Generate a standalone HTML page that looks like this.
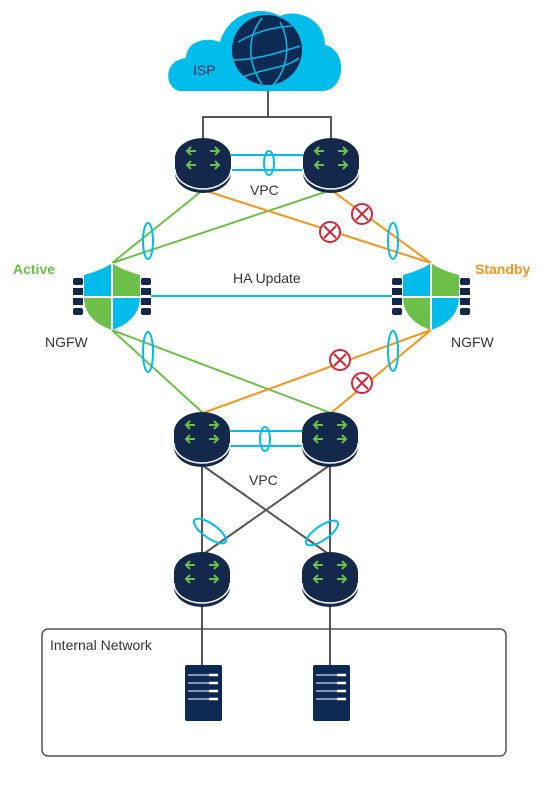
<!DOCTYPE html>
<html><head><meta charset="utf-8"><style>body{margin:0;background:#fff}svg{display:block}text{font-family:"Liberation Sans",sans-serif}</style></head><body>
<svg width="555" height="786" viewBox="0 0 555 786" xmlns="http://www.w3.org/2000/svg">
<defs>
<g id="rt">
<path d="M-28,0 L-28,15 A28,20 0 0 0 28,15 L28,0 Z" fill="#14284b"/>
<path d="M-28,11 A28,20 0 0 0 28,11" fill="none" stroke="#fff" stroke-width="1.5"/>
<ellipse cx="0" cy="0" rx="28" ry="20" fill="#14284b"/>
<g stroke="#6cc04a" stroke-width="2" fill="none">
<path d="M-16,-7 h9 M-12,-11 l-4,4 l4,4 M16,-7 h-9 M12,-11 l4,4 l-4,4 M-16,7 h9 M-12,3 l-4,4 l4,4 M16,7 h-9 M12,3 l4,4 l-4,4"/>
</g>
</g>
<g id="fw">
<g fill="#14284b">
<rect x="-39" y="-19" width="10" height="7" rx="2"/><rect x="-39" y="-9" width="10" height="7"/><rect x="-39" y="1" width="10" height="7"/><rect x="-39" y="11" width="10" height="7" rx="2"/>
<rect x="29" y="-19" width="10" height="7" rx="2"/><rect x="29" y="-9" width="10" height="7"/><rect x="29" y="1" width="10" height="7"/><rect x="29" y="11" width="10" height="7" rx="2"/>
</g>
<path d="M0,-34 C-8,-28 -18,-25 -28,-22 L-28,0 L0,0 Z" fill="#00bceb"/>
<path d="M0,-34 C8,-28 18,-25 28,-22 L28,0 L0,0 Z" fill="#6cc04a"/>
<path d="M-28,0 C-28,18 -15,28 0,33 L0,0 Z" fill="#6cc04a"/>
<path d="M28,0 C28,18 15,28 0,33 L0,0 Z" fill="#00bceb"/>
<path d="M0,-34 V33 M-28,0 H28" stroke="#fff" stroke-width="2"/>
</g>
<g id="xx"><circle r="10" fill="#fff" stroke="#d0283a" stroke-width="2"/><path d="M-6,-6 L6,6 M6,-6 L-6,6" stroke="#d0283a" stroke-width="2"/></g>
<g id="srv"><rect x="0" y="0" width="37" height="56" rx="2" fill="#0d2a54"/><g stroke="#fff" stroke-width="1"><path d="M3,10 H33 M3,18 H33 M3,26 H33 M3,34 H33"/></g><g stroke="#fff" stroke-width="2.5"><path d="M24,10 H33 M24,18 H33 M24,26 H33 M24,34 H33"/></g></g>
</defs>
<g stroke="#555" stroke-width="2" fill="none">
<path d="M268,90 V117 M203,140 V117 H331 V140"/>
<path d="M202,465 V555 M330,465 V555 M202,465 L330,555 M330,465 L202,555 M202,600 V665 M330,600 V665"/>
</g>
<rect x="42" y="629" width="464" height="127" rx="6" fill="none" stroke="#555" stroke-width="1.5"/>
<text x="50" y="650" font-size="14" fill="#333">Internal Network</text>
<!-- cloud -->
<path d="M182,91 C164,91 162,60 186,58 C186,42 205,36 220,42 C228,14 258,4 280,16 C298,8 325,20 325,45 C348,50 346,91 322,91 Z" fill="#00bceb"/>
<text x="193" y="75" font-size="14" fill="#0d2a54">ISP</text>
<circle cx="267" cy="50" r="35" fill="#0d2a54"/>
<g stroke="#00bceb" stroke-width="1.5" fill="none">
<path d="M238,42 C255,32 272,27 292,26 M233,60 C255,60 278,53 300,46 M243,77 C265,68 287,68 299,58 M262,18 C246,38 248,64 262,84 M280,22 C292,44 287,70 273,85"/>
</g>
<g stroke-width="2" fill="none">
<path d="M203,190 L112,263 M331,190 L112,263 M112,330 L203,413 M112,330 L331,413" stroke="#6cc04a"/>
<path d="M203,190 L431,263 M331,190 L431,263 M431,330 L203,413 M431,330 L331,413" stroke="#f7941d"/>
<path d="M151,296 H392 M231,155 H303 M231,170 H303 M230,431 H302 M230,446 H302" stroke="#00bceb"/>
</g>
<g stroke="#00bceb" stroke-width="2" fill="none">
<ellipse cx="269" cy="163" rx="5" ry="12"/><ellipse cx="265" cy="439" rx="5" ry="12"/>
<ellipse cx="148" cy="241" rx="5" ry="18"/><ellipse cx="393" cy="241" rx="5" ry="18"/>
<ellipse cx="148" cy="352" rx="5" ry="20"/><ellipse cx="393" cy="351" rx="5" ry="20"/>
<ellipse cx="210" cy="531" rx="19" ry="7" transform="rotate(35 210 531)"/>
<ellipse cx="322" cy="533" rx="19" ry="7" transform="rotate(-35 322 533)"/>
</g>
<use href="#xx" x="330" y="232"/><use href="#xx" x="362" y="214"/>
<use href="#xx" x="340" y="360"/><use href="#xx" x="362" y="383"/>
<use href="#rt" x="203" y="158"/><use href="#rt" x="331" y="158"/>
<use href="#rt" x="202" y="432"/><use href="#rt" x="330" y="432"/>
<use href="#rt" x="202" y="572"/><use href="#rt" x="330" y="572"/>
<use href="#fw" x="112" y="297"/><use href="#fw" x="431" y="297"/>
<use href="#srv" x="185" y="665"/><use href="#srv" x="313" y="665"/>
<text x="250" y="195" font-size="14" fill="#333">VPC</text>
<text x="249" y="485" font-size="14" fill="#333">VPC</text>
<text x="233" y="283" font-size="14" fill="#333">HA Update</text>
<text x="13" y="274" font-size="14" font-weight="bold" fill="#6cc04a">Active</text>
<text x="475" y="274" font-size="14" font-weight="bold" fill="#f7941d">Standby</text>
<text x="45" y="347" font-size="14" fill="#333">NGFW</text>
<text x="451" y="347" font-size="14" fill="#333">NGFW</text>
</svg>
</body></html>
